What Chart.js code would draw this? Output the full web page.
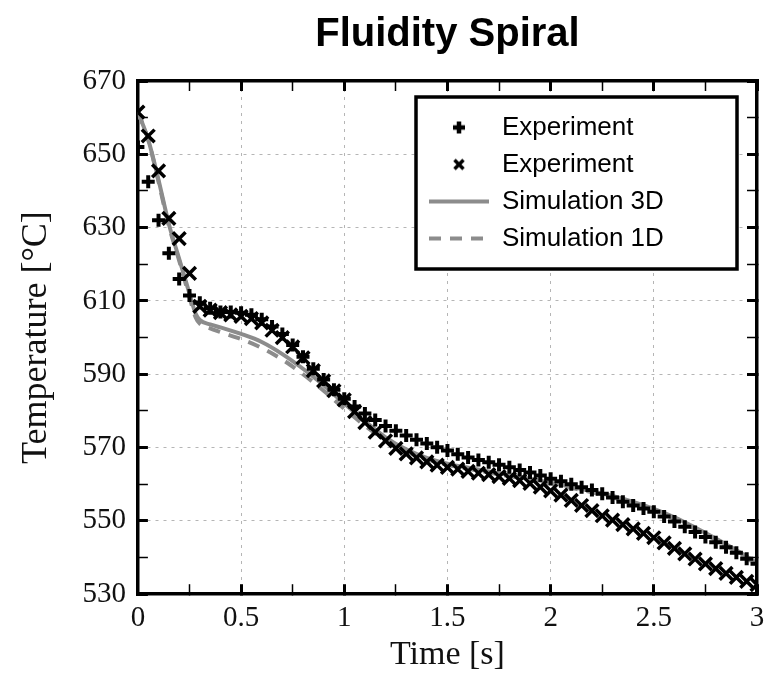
<!DOCTYPE html>
<html>
<head>
<meta charset="utf-8">
<title>Fluidity Spiral</title>
<script src="https://cdn.jsdelivr.net/npm/chart.js@4.4.0/dist/chart.umd.min.js"></script>
<style>
  html, body { margin: 0; padding: 0; background: #fff; }
  #chart { display: block; }
</style>
</head>
<body>
<canvas id="chart" width="764" height="689"></canvas>
<script>
// data
const expTime = [0, 0.05, 0.1, 0.15, 0.2, 0.25, 0.3, 0.35, 0.4, 0.45, 0.5, 0.55, 0.6, 0.65, 0.7, 0.75,
  0.8, 0.85, 0.9, 0.95, 1, 1.05, 1.1, 1.15, 1.2, 1.25, 1.3, 1.35, 1.4, 1.45, 1.5, 1.55, 1.6, 1.65,
  1.7, 1.75, 1.8, 1.85, 1.9, 1.95, 2, 2.05, 2.1, 2.15, 2.2, 2.25, 2.3, 2.35, 2.4, 2.45, 2.5, 2.55,
  2.6, 2.65, 2.7, 2.75, 2.8, 2.85, 2.9, 2.95, 3];
const expPlus = [652, 642.5, 632, 623, 616, 611.5, 609.5, 608, 607, 607, 606.8, 606.2, 605, 603, 601, 598,
  594.8, 591.5, 588.6, 585.8, 583.3, 581.2, 579.3, 577.5, 575.9, 574.6, 573.3, 572.1, 571.1, 570.1, 569.2, 568.2, 567.3, 566.6,
  566, 565.3, 564.6, 563.9, 563.2, 562.4, 561.5, 560.8, 560, 559.2, 558.4, 557.4, 556.4, 555.2, 554.2, 553.4, 552.5, 551.2,
  549.8, 548.4, 547, 545.6, 544.2, 542.8, 541.3, 539.7, 538.3];
const expCross = [661.5, 655, 645.5, 632.5, 627, 617.5, 608.5, 607.5, 606.8, 606.2, 605.8, 605.2, 604, 602, 600, 597.5,
  594.5, 591, 588.2, 585.5, 583, 579.8, 576.8, 574.2, 571.8, 569.8, 568.3, 567.2, 566.1, 565.2, 564.6, 564.1, 563.5, 563,
  562.6, 562.1, 561.6, 561, 560.2, 559.2, 558.2, 557, 555.6, 554.2, 552.8, 551.4, 550.2, 549, 547.8, 546.6, 545.4, 544,
  542.5, 541, 539.6, 538.3, 537, 535.7, 534.6, 533.5, 532.6];

const simTime = [0, 0.05, 0.1, 0.15, 0.2, 0.25, 0.28, 0.3, 0.35, 0.4, 0.5, 0.6, 0.7, 0.8, 0.9, 1, 1.1, 1.2,
  1.3, 1.4, 1.5, 1.6, 1.7, 1.8, 1.9, 2, 2.1, 2.2, 2.3, 2.4, 2.5, 2.6, 2.7, 2.8, 2.9, 3];
const sim3D = [661.5, 654, 643, 631, 621.5, 612, 606.5, 604.8, 603.6, 602.8, 601, 598.8, 595.5, 591.5, 587, 582, 577.2, 572.8,
  569.5, 567.2, 565.6, 564.5, 563.5, 562.5, 561.5, 560.4, 559.3, 558.1, 556.8, 555.2, 553.3, 551, 548.2, 545.2, 542, 538.5];
const sim1D = [661.5, 654, 642.5, 630.5, 621, 611, 605.5, 603.8, 602.5, 601.5, 599.6, 597.2, 594, 590, 585.5, 580.6, 576, 572,
  569, 566.8, 565.3, 564.2, 563.2, 562.2, 561.2, 560.1, 559, 557.8, 556.4, 554.8, 552.9, 550.6, 547.8, 544.8, 541.6, 538];

const seriesLabels = ['Experiment', 'Experiment', 'Simulation 3D', 'Simulation 1D'];
const xTickLabels = ['0', '0.5', '1', '1.5', '2', '2.5', '3'];
const yTickLabels = ['530', '550', '570', '590', '610', '630', '650', '670'];

const SERIF = '"Liberation Serif", "Times New Roman", serif';
const SANS = '"Liberation Sans", Arial, sans-serif';
const GRAY = '#8c8c8c';

function toPoints(xs, ys) {
  return xs.map((x, i) => ({ x: x, y: ys[i] }));
}

// small icons for the marker rows of the legend
function markerIcon(kind) {
  const c = document.createElement('canvas');
  c.width = 16; c.height = 16;
  const g = c.getContext('2d');
  g.strokeStyle = '#000';
  g.beginPath();
  if (kind === 'plus') {
    g.lineWidth = 4.5;
    g.moveTo(8, 2); g.lineTo(8, 14);
    g.moveTo(2, 8); g.lineTo(14, 8);
  } else {
    g.lineWidth = 3.5;
    g.moveTo(3.5, 3.5); g.lineTo(12.5, 12.5);
    g.moveTo(12.5, 3.5); g.lineTo(3.5, 12.5);
  }
  g.stroke();
  return c;
}
const plusIcon = markerIcon('plus');
const crossIcon = markerIcon('cross');

const majorX = v => xTickLabels.includes(String(v));
const majorY = v => yTickLabels.includes(String(v));

function tickGrid(isMajor, onArea) {
  return {
    drawOnChartArea: onArea,
    color: c => (c.tick && isMajor(c.tick.value)) ? '#b5b5b5' : 'rgba(0,0,0,0)',
    lineWidth: 1,
    tickLength: -10,
    tickColor: '#000',
    tickWidth: c => (c.tick && isMajor(c.tick.value)) ? 3 : 1.5
  };
}
const frameBorder = { display: true, color: '#000', width: 3.5, dash: [3, 5] };

// white framed box behind the legend, legend drawn again on top of it
const legendFrame = {
  id: 'legendFrame',
  afterLayout(chart) {
    const a = chart.chartArea, lg = chart.legend;
    lg.left = a.right - 339;
    lg.right = a.right - 20;
    lg.top = a.top + 22.5;
    lg.bottom = a.bottom;
  },
  afterDatasetsDraw(chart) {
    const a = chart.chartArea, ctx = chart.ctx;
    const x = a.right - 341, y = a.top + 16, w = 321, h = 172;
    ctx.save();
    ctx.fillStyle = '#fff';
    ctx.fillRect(x, y, w, h);
    ctx.lineWidth = 3.5;
    ctx.strokeStyle = '#000';
    ctx.strokeRect(x, y, w, h);
    ctx.restore();
    chart.legend.draw();
  }
};

new Chart(document.getElementById('chart'), {
  type: 'scatter',
  data: {
    datasets: [{
      label: seriesLabels[0],
      data: toPoints(expTime, expPlus),
      pointStyle: 'cross',
      pointRadius: 6.5,
      pointBorderWidth: 4,
      borderColor: '#000',
      backgroundColor: '#000'
    }, {
      label: seriesLabels[1],
      data: toPoints(expTime, expCross),
      pointStyle: 'crossRot',
      pointRadius: 9,
      pointBorderWidth: 3.5,
      borderColor: '#000',
      backgroundColor: '#000'
    }, {
      label: seriesLabels[2],
      data: toPoints(simTime, sim3D),
      showLine: true,
      cubicInterpolationMode: 'monotone',
      borderColor: GRAY,
      backgroundColor: GRAY,
      borderWidth: 4,
      pointRadius: 0,
      pointStyle: 'line',
      pointBorderWidth: 4,
      pointBorderColor: GRAY
    }, {
      label: seriesLabels[3],
      data: toPoints(simTime, sim1D),
      showLine: true,
      cubicInterpolationMode: 'monotone',
      borderColor: GRAY,
      backgroundColor: GRAY,
      borderWidth: 4,
      borderDash: [12, 9],
      pointRadius: 0,
      pointStyle: 'line',
      pointBorderWidth: 4,
      pointBorderColor: GRAY
    }]
  },
  options: {
    responsive: false,
    devicePixelRatio: 1,
    animation: false,
    events: [],
    layout: { autoPadding: false, padding: { left: 4, right: 7, top: 0, bottom: 4 } },
    scales: {
      x: {
        type: 'linear', axis: 'x', position: 'bottom', min: 0, max: 3,
        ticks: {
          stepSize: 0.25, autoSkip: false, maxRotation: 0, padding: 17,
          color: '#111', font: { family: SERIF, size: 29 },
          callback: v => majorX(v) ? String(v) : ''
        },
        grid: tickGrid(majorX, true),
        border: frameBorder,
        title: {
          display: true, text: 'Time [s]', color: '#111',
          font: { family: SERIF, size: 34 }, padding: { top: -18.4, bottom: 9.6 }
        },
        afterFit(scale) {
          scale.paddingLeft = 0;
          scale.paddingRight = 0;
        }
      },
      y: {
        type: 'linear', axis: 'y', position: 'left', min: 530, max: 670,
        ticks: {
          stepSize: 10, autoSkip: false, padding: 22,
          color: '#111', font: { family: SERIF, size: 29 },
          callback: v => majorY(v) ? String(v) : ''
        },
        grid: tickGrid(majorY, true),
        border: frameBorder,
        title: {
          display: true, text: 'Temperature [°C]', color: '#111',
          font: { family: SERIF, size: 36 }, padding: { top: 11.4, bottom: 1.8 }
        }
      },
      x2: {
        type: 'linear', axis: 'x', position: 'top', min: 0, max: 3,
        ticks: { stepSize: 0.25, autoSkip: false, padding: 0, font: { size: 10 }, callback: () => '' },
        grid: tickGrid(majorX, false),
        border: frameBorder
      },
      y2: {
        type: 'linear', axis: 'y', position: 'right', min: 530, max: 670,
        ticks: { stepSize: 10, autoSkip: false, padding: 0, font: { size: 10 }, callback: () => '' },
        grid: tickGrid(majorY, false),
        border: frameBorder
      }
    },
    plugins: {
      title: {
        display: true, text: 'Fluidity Spiral', color: '#000', fullSize: false,
        font: { family: SANS, size: 40, weight: 'bold' },
        padding: { top: 11, bottom: 20 }
      },
      legend: {
        position: 'chartArea',
        align: 'start',
        labels: {
          usePointStyle: true,
          pointStyleWidth: 60,
          padding: 11,
          color: '#000',
          font: { family: SANS, size: 26 },
          generateLabels(chart) {
            const items = Chart.defaults.plugins.legend.labels.generateLabels(chart);
            items[0].pointStyle = plusIcon;
            items[1].pointStyle = crossIcon;
            items[3].lineDash = chart.data.datasets[3].borderDash;
            return items;
          }
        }
      },
      tooltip: { enabled: false }
    }
  },
  plugins: [legendFrame]
});
</script>
</body>
</html>
